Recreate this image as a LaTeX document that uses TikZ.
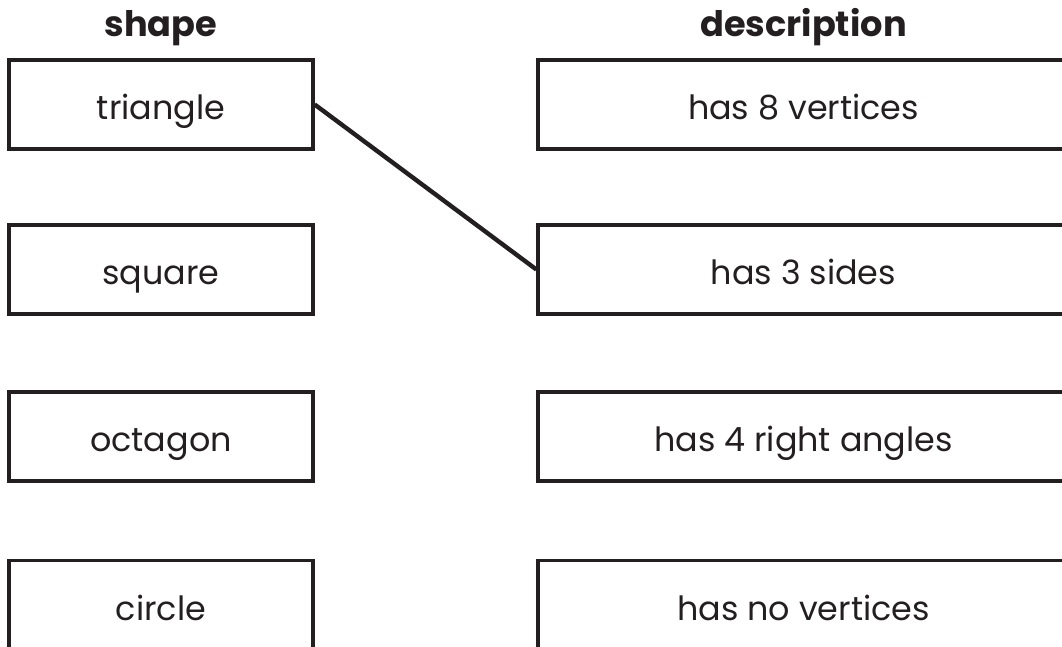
\documentclass[tikz,border=0pt]{standalone}
\usepackage{fontspec}
\setmainfont{Poppins}
\usepackage{tikz}
\usetikzlibrary{calc}
\definecolor{inkblack}{HTML}{231F20}

\begin{document}
\begin{tikzpicture}[
    matchbox/.style={draw=inkblack, line width=1.9pt, text=inkblack,
        minimum height=1.78cm, text height=0.62cm, text depth=0pt,
        inner sep=0pt, font=\fontsize{19pt}{23pt}\selectfont},
    shapebox/.style={matchbox, minimum width=6.08cm},
    descbox/.style={matchbox, minimum width=10.62cm},
    heading/.style={anchor=base, text=inkblack,
        font=\fontsize{20pt}{24pt}\selectfont\bfseries}
]
    \useasboundingbox (0,0) rectangle (21.24,12.94);
    % column headings
    \node[heading] (hshape) at (3.22,12.2) {shape};
    \node[heading] (hdesc) at (16.07,12.2) {description};
    % shapes
    \node[shapebox] (tri) at (3.22,10.85) {triangle};
    \node[shapebox] (sq) at (3.22,7.55) {square};
    \node[shapebox] (oct) at (3.22,4.21) {octagon};
    \node[shapebox] (circ) at (3.22,0.84) {circle};
    % descriptions
    \node[descbox] (d8) at (16.07,10.85) {has 8 vertices};
    \node[descbox] (d3) at (16.07,7.55) {has 3 sides};
    \node[descbox] (d4) at (16.07,4.21) {has 4 right angles};
    \node[descbox] (d0) at (16.07,0.84) {has no vertices};
    \draw[inkblack, line width=2.5pt] (tri.east) -- (d3.west);
\end{tikzpicture}
\end{document}
